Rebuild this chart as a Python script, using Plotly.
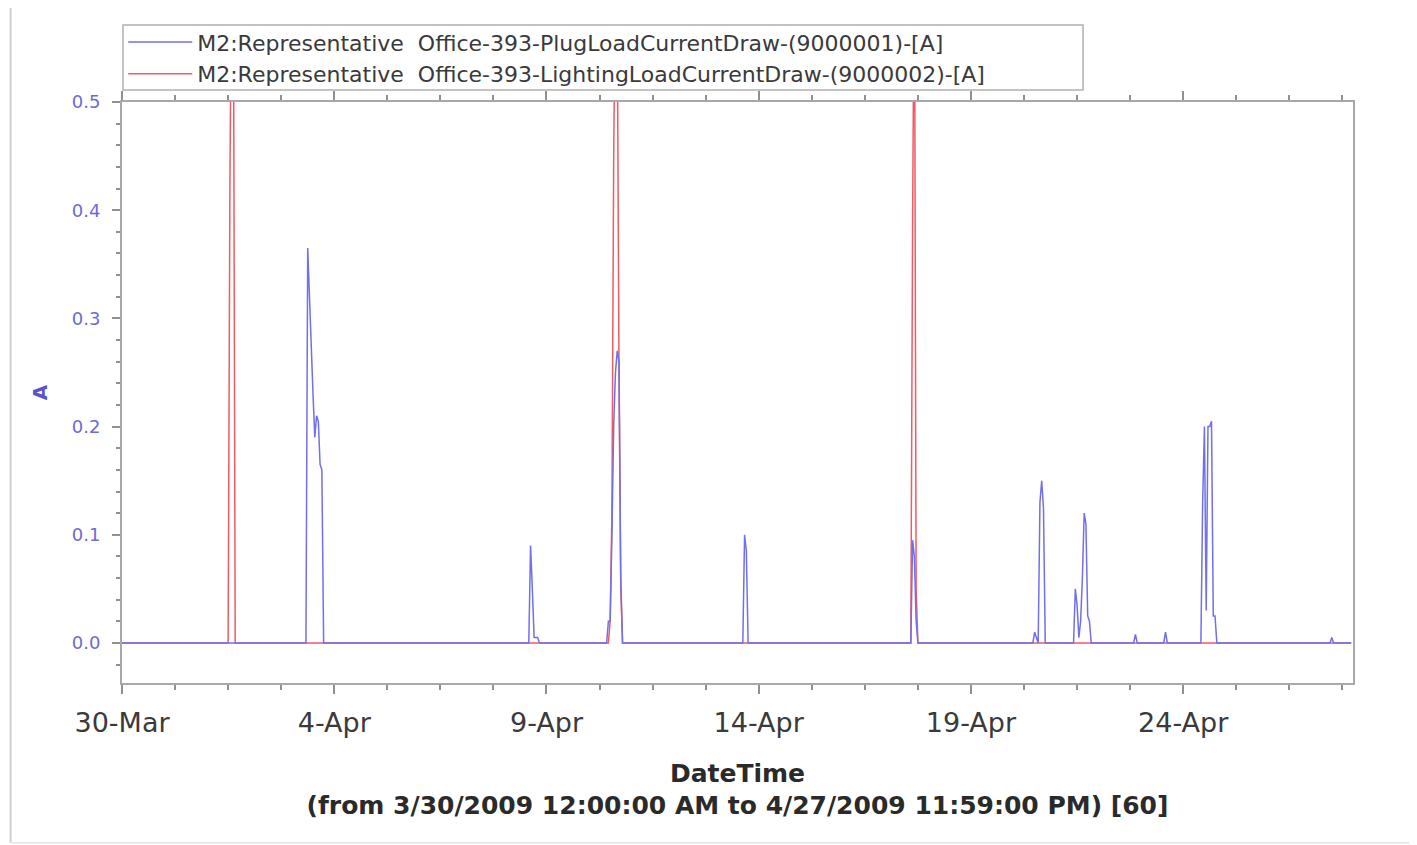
import plotly.graph_objects as go

# ---- data (hourly samples) ----
plug_times = [
    "2009-03-30 00:00",
    "2009-04-03 08:00", "2009-04-03 09:00", "2009-04-03 10:00", "2009-04-03 11:00",
    "2009-04-03 12:00", "2009-04-03 13:00", "2009-04-03 14:00", "2009-04-03 15:00",
    "2009-04-03 16:00", "2009-04-03 17:00", "2009-04-03 18:00",
    "2009-04-08 14:00", "2009-04-08 15:00", "2009-04-08 16:00", "2009-04-08 17:00",
    "2009-04-08 18:00", "2009-04-08 19:00", "2009-04-08 20:00",
    "2009-04-10 10:00", "2009-04-10 11:00", "2009-04-10 12:00", "2009-04-10 13:00",
    "2009-04-10 14:00", "2009-04-10 15:00", "2009-04-10 16:00", "2009-04-10 17:00",
    "2009-04-10 18:00", "2009-04-10 19:00",
    "2009-04-13 15:00", "2009-04-13 16:00", "2009-04-13 17:00", "2009-04-13 18:00",
    "2009-04-17 14:00", "2009-04-17 15:00", "2009-04-17 16:00", "2009-04-17 17:00",
    "2009-04-17 18:00",
    "2009-04-20 11:00", "2009-04-20 12:00", "2009-04-20 13:00", "2009-04-20 14:00",
    "2009-04-20 15:00", "2009-04-20 16:00", "2009-04-20 17:00", "2009-04-20 18:00",
    "2009-04-21 10:00", "2009-04-21 11:00", "2009-04-21 12:00", "2009-04-21 13:00",
    "2009-04-21 14:00", "2009-04-21 15:00", "2009-04-21 16:00", "2009-04-21 17:00",
    "2009-04-21 18:00", "2009-04-21 19:00", "2009-04-21 20:00",
    "2009-04-22 20:00", "2009-04-22 21:00", "2009-04-22 22:00",
    "2009-04-23 13:00", "2009-04-23 14:00", "2009-04-23 15:00",
    "2009-04-24 10:00", "2009-04-24 11:00", "2009-04-24 12:00", "2009-04-24 13:00",
    "2009-04-24 14:00", "2009-04-24 15:00", "2009-04-24 16:00", "2009-04-24 17:00",
    "2009-04-24 18:00", "2009-04-24 19:00",
    "2009-04-27 11:00", "2009-04-27 12:00", "2009-04-27 13:00",
    "2009-04-27 23:00",
]
plug_values = [
    0.0,
    0.0, 0.365, 0.32, 0.26,
    0.23, 0.19, 0.21, 0.205,
    0.165, 0.16, 0.0,
    0.0, 0.09, 0.05, 0.005,
    0.005, 0.005, 0.0,
    0.0, 0.02, 0.02, 0.10,
    0.20, 0.25, 0.27, 0.26,
    0.06, 0.0,
    0.0, 0.10, 0.085, 0.0,
    0.0, 0.095, 0.08, 0.02,
    0.0,
    0.0, 0.01, 0.005, 0.0,
    0.13, 0.15, 0.125, 0.0,
    0.0, 0.05, 0.035, 0.005,
    0.02, 0.06, 0.12, 0.11,
    0.025, 0.02, 0.0,
    0.0, 0.008, 0.0,
    0.0, 0.01, 0.0,
    0.0, 0.13, 0.20, 0.03,
    0.20, 0.20, 0.205, 0.025,
    0.025, 0.0,
    0.0, 0.005, 0.0,
    0.0,
]

light_times = [
    "2009-03-30 00:00",
    "2009-04-01 12:00", "2009-04-01 13:00", "2009-04-01 14:00", "2009-04-01 15:00",
    "2009-04-01 16:00",
    "2009-04-10 11:00", "2009-04-10 12:00", "2009-04-10 13:00", "2009-04-10 14:00",
    "2009-04-10 15:00", "2009-04-10 16:00", "2009-04-10 17:00", "2009-04-10 18:00",
    "2009-04-10 19:00",
    "2009-04-17 14:00", "2009-04-17 15:00", "2009-04-17 16:00", "2009-04-17 17:00",
    "2009-04-17 18:00",
    "2009-04-27 23:00",
]
light_values = [
    0.0,
    0.0, 0.42, 0.65, 0.60,
    0.0,
    0.0, 0.02, 0.12, 0.45,
    0.62, 0.58, 0.25, 0.05,
    0.0,
    0.0, 0.39, 0.65, 0.05,
    0.0,
    0.0,
]

series_names = [
    "M2:Representative  Office-393-PlugLoadCurrentDraw-(9000001)-[A]",
    "M2:Representative  Office-393-LightingLoadCurrentDraw-(9000002)-[A]",
]
x_tick_vals = ["2009-03-30", "2009-04-04", "2009-04-09", "2009-04-14", "2009-04-19", "2009-04-24"]
x_tick_text = ["30-Mar", "4-Apr", "9-Apr", "14-Apr", "19-Apr", "24-Apr"]
y_tick_vals = [0.0, 0.1, 0.2, 0.3, 0.4, 0.5]
x_title = "<b>DateTime<br>(from 3/30/2009 12:00:00 AM to 4/27/2009 11:59:00 PM) [60]</b>"
y_title = "<b>A</b>"

BLUE = "rgb(112,112,235)"
RED = "rgb(240,90,100)"
AXIS = "#a8a8a8"
FONT = "DejaVu Sans, Liberation Sans, Arial, sans-serif"

fig = go.Figure()
fig.add_trace(go.Scatter(x=light_times, y=light_values, mode="lines",
                         line=dict(color=RED, width=1.5), name=series_names[1],
                         legendrank=2))
fig.add_trace(go.Scatter(x=plug_times, y=plug_values, mode="lines",
                         line=dict(color=BLUE, width=1.5), name=series_names[0],
                         legendrank=1))

frame_line = dict(color="#d0d0d0", width=2)

fig.update_layout(
    width=1409, height=837,
    margin=dict(l=114, r=64, t=94, b=162),
    paper_bgcolor="white", plot_bgcolor="white",
    font=dict(family=FONT, color="#3a3a3a"),
    showlegend=True,
    legend=dict(x=0.001, y=1.139, xanchor="left", yanchor="top",
                bgcolor="rgba(0,0,0,0)", borderwidth=0,
                font=dict(size=22, color="#3a3a3a"), tracegroupgap=0,
                itemwidth=64),
    xaxis=dict(
        type="date", range=["2009-03-30 00:00", "2009-04-28 00:00"],
        tickmode="array", tickvals=x_tick_vals, ticktext=x_tick_text,
        tickfont=dict(size=27, color="#3a3a3a"),
        ticks="outside", ticklen=9, tickwidth=1.5, tickcolor="#909090",
        ticklabelstandoff=6,
        showline=True, linecolor=AXIS, linewidth=2, mirror="ticks",
        showgrid=False, zeroline=False,
        minor=dict(ticks="outside", ticklen=5, tickwidth=1.5, tickcolor="#909090",
                   tick0="2009-03-30", dtick=108000000, showgrid=False),
        title=dict(text=x_title, font=dict(size=25, color="#2a2a2a"), standoff=27),
    ),
    yaxis=dict(
        range=[-0.037, 0.5],
        tickmode="array", tickvals=y_tick_vals,
        tickformat=".1f",
        tickfont=dict(size=18, color="#6b6bd8"),
        ticks="outside", ticklen=8, tickwidth=1.5, tickcolor="#909090",
        ticklabelstandoff=8,
        showline=True, linecolor=AXIS, linewidth=2, mirror=True,
        showgrid=False, zeroline=False,
        minor=dict(ticks="outside", ticklen=4, tickwidth=1.5, tickcolor="#909090",
                   tick0=0, dtick=0.02, showgrid=False),
        title=dict(text=y_title, font=dict(size=20, color="#5555d0"), standoff=19),
    ),
    shapes=[
        # outer chart frame (left, top, bottom edges)
        dict(type="line", xref="paper", yref="paper",
             x0=-0.0905, x1=-0.0905, y0=-0.275, y1=1.1635, line=frame_line, layer="below"),
        dict(type="line", xref="paper", yref="paper",
             x0=-0.0905, x1=1.2, y0=1.1635, y1=1.1635, line=frame_line, layer="below"),
        dict(type="line", xref="paper", yref="paper",
             x0=-0.0905, x1=1.2, y0=-0.275, y1=-0.275,
             line=dict(color="#e4e4e4", width=1.5), layer="below"),
        # legend box
        dict(type="rect", xref="paper", yref="paper",
             x0=0.0008, x1=0.7807, y0=1.0207, y1=1.1325,
             line=dict(color="#b0b0b0", width=1.5), fillcolor="white",
             layer="below"),
    ],
)

fig.write_html("out.html")
